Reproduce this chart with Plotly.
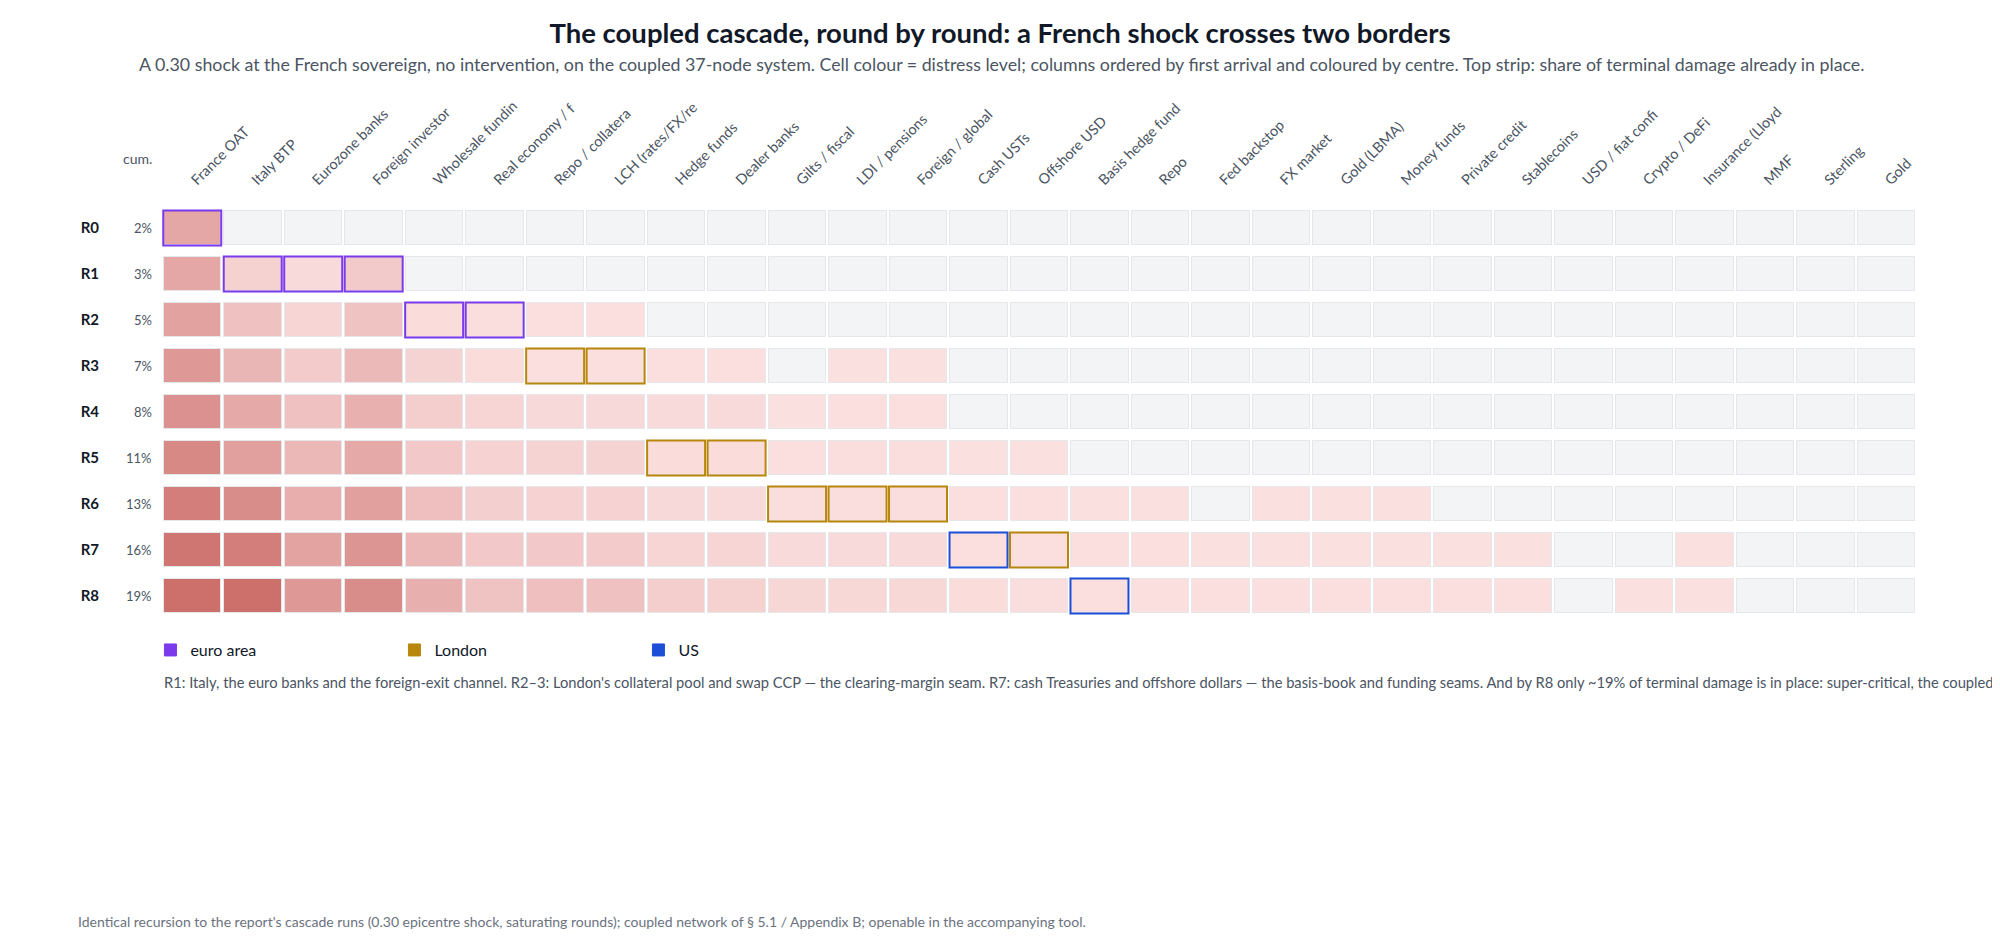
import plotly.graph_objects as go

# columns, in order of first arrival (names truncated to 16 chars on the axis)
NODES = ["France OAT", "Italy BTP", "Eurozone banks", "Foreign investor",
         "Wholesale funding", "Real economy / firms", "Repo / collateral",
         "LCH (rates/FX/repo)", "Hedge funds", "Dealer banks", "Gilts / fiscal",
         "LDI / pensions", "Foreign / global", "Cash USTs", "Offshore USD",
         "Basis hedge fund", "Repo", "Fed backstop", "FX market", "Gold (LBMA)",
         "Money funds", "Private credit", "Stablecoins", "USD / fiat confidence",
         "Crypto / DeFi", "Insurance (Lloyd's)", "MMF", "Sterling", "Gold"]

# round in which each node first arrives (None = not within R8) and its centre
ARRIVAL = [0, 1, 1, 1, 2, 2, 3, 3, 5, 5, 6, 6, 6, 7, 7, 8,
           None, None, None, None, None, None, None, None, None, None, None, None, None]
CENTRE = ["euro area"] * 6 + ["London"] * 7 + ["US", "London", "US"] + ["US"] * 13

ROUNDS = ["R0", "R1", "R2", "R3", "R4", "R5", "R6", "R7", "R8"]
CUM_SHARE = [2, 3, 5, 7, 8, 11, 13, 16, 19]  # % of terminal damage in place

N = None
# distress level per round (rows) and node (columns); None = untouched
DISTRESS = [
    [0.44, N, N, N, N, N, N, N, N, N, N, N, N, N, N, N, N, N, N, N, N, N, N, N, N, N, N, N, N],
    [0.44, 0.14, 0.07, 0.19, N, N, N, N, N, N, N, N, N, N, N, N, N, N, N, N, N, N, N, N, N, N, N, N, N],
    [0.48, 0.25, 0.11, 0.24, 0.06, 0.05, 0.04, 0.04, N, N, N, N, N, N, N, N, N, N, N, N, N, N, N, N, N, N, N, N, N],
    [0.54, 0.33, 0.18, 0.31, 0.12, 0.06, 0.04, 0.04, 0.04, 0.04, N, 0.03, 0.03,
     N, N, N, N, N, N, N, N, N, N, N, N, N, N, N, N],
    [0.60, 0.42, 0.25, 0.37, 0.16, 0.11, 0.08, 0.08, 0.07, 0.07, 0.03, 0.04, 0.04,
     N, N, N, N, N, N, N, N, N, N, N, N, N, N, N, N],
    [0.66, 0.50, 0.32, 0.42, 0.20, 0.13, 0.12, 0.12, 0.06, 0.06, 0.04, 0.05, 0.05,
     0.03, 0.03, N, N, N, N, N, N, N, N, N, N, N, N, N, N],
    [0.74, 0.63, 0.39, 0.50, 0.27, 0.15, 0.13, 0.13, 0.08, 0.07, 0.05, 0.05, 0.05,
     0.04, 0.04, 0.03, 0.03, N, 0.03, 0.03, 0.03, N, N, N, N, N, N, N, N],
    [0.80, 0.74, 0.47, 0.57, 0.32, 0.20, 0.20, 0.18, 0.11, 0.11, 0.07, 0.07, 0.07,
     0.04, 0.04, 0.04, 0.04, 0.03, 0.03, 0.03, 0.03, 0.03, 0.03, N, N, 0.03, N, N, N],
    [0.85, 0.85, 0.55, 0.63, 0.38, 0.24, 0.27, 0.25, 0.16, 0.14, 0.10, 0.09, 0.09,
     0.06, 0.05, 0.04, 0.04, 0.04, 0.04, 0.04, 0.04, 0.04, 0.04, N, 0.03, 0.03, N, N, N],
]

CENTRE_COLOURS = {"euro area": "#7c3aed", "London": "#b8860b", "US": "#1d4ed8"}

FONT = "Lato, sans-serif"


def truncate(text, n=16):
    return text[:n]


cols = list(range(len(NODES)))
rows = list(range(len(ROUNDS)))
ones = [[1] * len(NODES) for _ in ROUNDS]

fig = go.Figure()

# cell frame, empty cell fill, then distress on top
fig.add_trace(go.Heatmap(z=ones, x=cols, y=rows, zmin=0, zmax=1,
                         colorscale=[[0, "#e5e7eb"], [1, "#e5e7eb"]],
                         showscale=False, xgap=2, ygap=11, hoverinfo="skip"))
fig.add_trace(go.Heatmap(z=ones, x=cols, y=rows, zmin=0, zmax=1,
                         colorscale=[[0, "#f3f4f6"], [1, "#f3f4f6"]],
                         showscale=False, xgap=4, ygap=13, hoverinfo="skip"))
fig.add_trace(go.Heatmap(z=DISTRESS, x=cols, y=rows, zmin=0, zmax=1,
                         colorscale=[[0, "#fde4e4"], [1, "#c45a56"]],
                         showscale=False, xgap=4, ygap=13,
                         customdata=[[n for n in NODES] for _ in ROUNDS],
                         hovertemplate="%{customdata}<br>distress %{z:.2f}<extra></extra>"))

# legend entries for the centres
for centre, colour in CENTRE_COLOURS.items():
    fig.add_trace(go.Bar(x=[None], y=[None], name=centre, marker_color=colour,
                         marker_line=dict(color=colour, width=1), showlegend=True))

# outline the cell where each node first arrives
for i, r in enumerate(ARRIVAL):
    if r is None:
        continue
    fig.add_shape(type="rect", xref="x", yref="y",
                  xsizemode="pixel", ysizemode="pixel",
                  xanchor=i, yanchor=r, x0=-29, x1=29, y0=-17.5, y1=17.5,
                  line=dict(color=CENTRE_COLOURS[CENTRE[i]], width=2),
                  fillcolor="rgba(0,0,0,0)")

# cumulative share column
fig.add_annotation(x=-0.5, y=1 + 1 / len(ROUNDS), xref="x", yref="paper", text="cum.",
                   showarrow=False, xanchor="right", yanchor="middle", xshift=-8,
                   font=dict(size=14, color="#4b5563"))
for r, share in zip(rows, CUM_SHARE):
    fig.add_annotation(x=-0.5, y=r, xref="x", yref="y", text=f"{share}%",
                       showarrow=False, xanchor="right", xshift=-8,
                       font=dict(size=13, color="#4b5563"))

fig.add_annotation(
    x=0.4786, y=1.3406, xref="paper", yref="paper", xanchor="center", yanchor="middle",
    text="A 0.30 shock at the French sovereign, no intervention, on the coupled 37-node system. "
         "Cell colour = distress level; columns ordered by first arrival and coloured by centre. "
         "Top strip: share of terminal damage already in place.",
    showarrow=False, font=dict(size=17.8, color="#4b5563"))

fig.add_annotation(
    x=0, y=-0.152, xref="paper", yref="paper", xanchor="left", yanchor="middle",
    text="R1: Italy, the euro banks and the foreign-exit channel. R2\u20133: London's collateral pool "
         "and swap CCP \u2014 the clearing-margin seam. R7: cash Treasuries and offshore dollars \u2014 "
         "the basis-book and funding seams. And by R8 only ~19% of terminal damage is in place: "
         "super-critical, the coupled",
    showarrow=False, font=dict(size=14.7, color="#4b5563"))

fig.add_annotation(
    x=-0.049, y=-0.7295, xref="paper", yref="paper", xanchor="left", yanchor="middle",
    text="Identical recursion to the report's cascade runs (0.30 epicentre shock, saturating rounds); "
         "coupled network of \u00a7 5.1 / Appendix B; openable in the accompanying tool.",
    showarrow=False, font=dict(size=14, color="#6b7280"))

fig.update_layout(
    width=2000, height=946,
    margin=dict(l=154, r=92, t=197, b=335, autoexpand=False),
    paper_bgcolor="white", plot_bgcolor="white",
    font=dict(family=FONT, color="#374151"),
    title=dict(text="<b>The coupled cascade, round by round: a French shock crosses two borders</b>",
               x=0.496, xanchor="center", y=1 - 25 / 946, yanchor="middle",
               font=dict(size=27.5, color="#111827")),
    legend=dict(orientation="h", x=-0.0066, y=-0.075, xanchor="left", yanchor="middle",
                entrywidth=199, font=dict(size=16, color="#111827"),
                bgcolor="rgba(0,0,0,0)"),
    showlegend=True,
    hovermode="closest",
)

fig.update_xaxes(side="top", tickangle=-45, tickmode="array", tickvals=cols,
                 ticktext=[truncate(n) for n in NODES], range=[-0.5, len(NODES) - 0.5],
                 showgrid=False, zeroline=False, showline=False, ticks="",
                 ticklabelstandoff=13, automargin=False,
                 tickfont=dict(size=14.5, color="#4b5563"), fixedrange=True)
fig.update_yaxes(tickmode="array", tickvals=rows, ticktext=[f"<b>{r}</b>" for r in ROUNDS],
                 range=[len(ROUNDS) - 0.5, -0.5], showgrid=False, zeroline=False,
                 showline=False, ticks="", ticklabelstandoff=62, automargin=False,
                 tickfont=dict(size=15, color="#111827"), fixedrange=True)

fig.write_html("out.html")
